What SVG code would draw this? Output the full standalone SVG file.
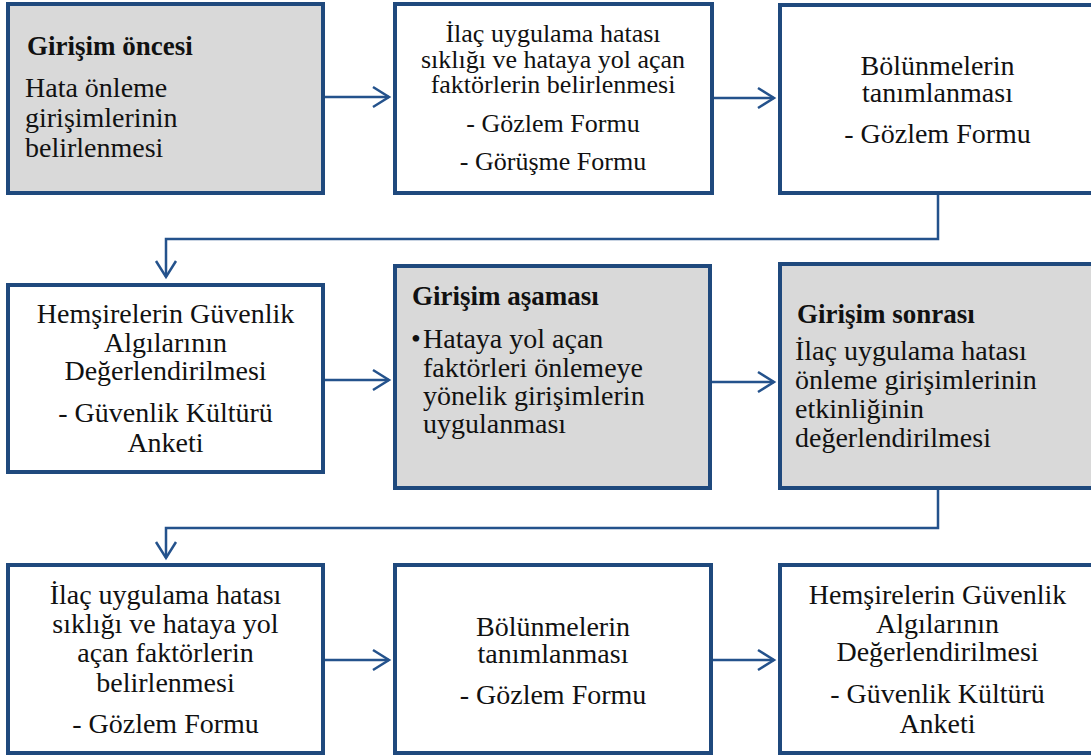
<svg xmlns="http://www.w3.org/2000/svg" width="1091" height="755" viewBox="0 0 1091 755">
  <style>
    .box { stroke: #1f497d; stroke-width: 4; }
    .plain { fill: #ffffff; }
    .shaded { fill: #d9d9d9; }
    .t { font-family: "Liberation Serif", "Times New Roman", serif; font-size: 28px; fill: #111111; }
    .s { font-size: 26px; }
    .b { font-weight: bold; font-size: 27px; }
    .c { text-anchor: middle; }
    .link { fill: none; stroke: #24528c; stroke-width: 2.5; marker-end: url(#chev); }
  </style>
  <defs>
    <marker id="chev" markerUnits="userSpaceOnUse" markerWidth="22" markerHeight="24" viewBox="0 0 22 24" refX="18" refY="12" orient="auto">
      <path d="M2,2 L18,12 L2,22" fill="none" stroke="#24528c" stroke-width="2.5"/>
    </marker>
  </defs>

  <rect width="1091" height="755" fill="#ffffff"/>

  <!-- connectors -->
  <g id="connectors">
    <path class="link" d="M323,97 H389"/>
    <path class="link" d="M712,98 H774"/>
    <path class="link" d="M938,193 V239 H166 V277"/>
    <path class="link" d="M323,380 H389"/>
    <path class="link" d="M710,382 H774"/>
    <path class="link" d="M938,488 V528 H166 V558"/>
    <path class="link" d="M323,660 H389"/>
    <path class="link" d="M711,660 H774"/>
  </g>

  <!-- row 1 -->
  <g id="node-girisim-oncesi">
    <rect class="box shaded" x="8" y="4" width="315" height="189"/>
    <text class="t b" x="27" y="55">Girişim öncesi</text>
    <text class="t" x="25" y="97">Hata önleme</text>
    <text class="t" x="25" y="127">girişimlerinin</text>
    <text class="t" x="25" y="157">belirlenmesi</text>
  </g>

  <g id="node-hata-sikligi-1">
    <rect class="box plain" x="395" y="4" width="317" height="189"/>
    <text class="t s c" x="553" y="42">İlaç uygulama hatası</text>
    <text class="t s c" x="553" y="68">sıklığı ve hataya yol açan</text>
    <text class="t s c" x="553" y="93">faktörlerin belirlenmesi</text>
    <text class="t s c" x="553" y="132">- Gözlem Formu</text>
    <text class="t s c" x="553" y="170">- Görüşme Formu</text>
  </g>

  <g id="node-bolunmeler-1">
    <rect class="box plain" x="780" y="5" width="315" height="188"/>
    <text class="t c" x="937.5" y="75">Bölünmelerin</text>
    <text class="t c" x="937.5" y="102">tanımlanması</text>
    <text class="t c" x="937.5" y="143">- Gözlem Formu</text>
  </g>

  <!-- row 2 -->
  <g id="node-guvenlik-1">
    <rect class="box plain" x="8" y="285" width="315" height="187"/>
    <text class="t c" x="165.5" y="323">Hemşirelerin Güvenlik</text>
    <text class="t c" x="165.5" y="352">Algılarının</text>
    <text class="t c" x="165.5" y="380">Değerlendirilmesi</text>
    <text class="t c" x="165.5" y="422">- Güvenlik Kültürü</text>
    <text class="t c" x="165.5" y="452">Anketi</text>
  </g>

  <g id="node-girisim-asamasi">
    <rect class="box shaded" x="395" y="266" width="315" height="222"/>
    <text class="t b" x="412" y="305">Girişim aşaması</text>
    <text class="t" x="411" y="348">•</text>
    <text class="t" x="423" y="348">Hataya yol açan</text>
    <text class="t" x="423" y="377">faktörleri önlemeye</text>
    <text class="t" x="423" y="405">yönelik girişimlerin</text>
    <text class="t" x="423" y="433">uygulanması</text>
  </g>

  <g id="node-girisim-sonrasi">
    <rect class="box shaded" x="780" y="264" width="315" height="224"/>
    <text class="t b" x="797" y="323">Girişim sonrası</text>
    <text class="t" x="795" y="360">İlaç uygulama hatası</text>
    <text class="t" x="795" y="389">önleme girişimlerinin</text>
    <text class="t" x="795" y="418">etkinliğinin</text>
    <text class="t" x="795" y="447">değerlendirilmesi</text>
  </g>

  <!-- row 3 -->
  <g id="node-hata-sikligi-2">
    <rect class="box plain" x="8" y="565" width="315" height="188"/>
    <text class="t c" x="165.5" y="604">İlaç uygulama hatası</text>
    <text class="t c" x="165.5" y="633">sıklığı ve hataya yol</text>
    <text class="t c" x="165.5" y="662">açan faktörlerin</text>
    <text class="t c" x="165.5" y="692">belirlenmesi</text>
    <text class="t c" x="165.5" y="733">- Gözlem Formu</text>
  </g>

  <g id="node-bolunmeler-2">
    <rect class="box plain" x="395" y="565" width="316" height="188"/>
    <text class="t c" x="553" y="636">Bölünmelerin</text>
    <text class="t c" x="553" y="663">tanımlanması</text>
    <text class="t c" x="553" y="704">- Gözlem Formu</text>
  </g>

  <g id="node-guvenlik-2">
    <rect class="box plain" x="780" y="565" width="315" height="188"/>
    <text class="t c" x="937.5" y="604">Hemşirelerin Güvenlik</text>
    <text class="t c" x="937.5" y="633">Algılarının</text>
    <text class="t c" x="937.5" y="661">Değerlendirilmesi</text>
    <text class="t c" x="937.5" y="703">- Güvenlik Kültürü</text>
    <text class="t c" x="937.5" y="733">Anketi</text>
  </g>
</svg>
